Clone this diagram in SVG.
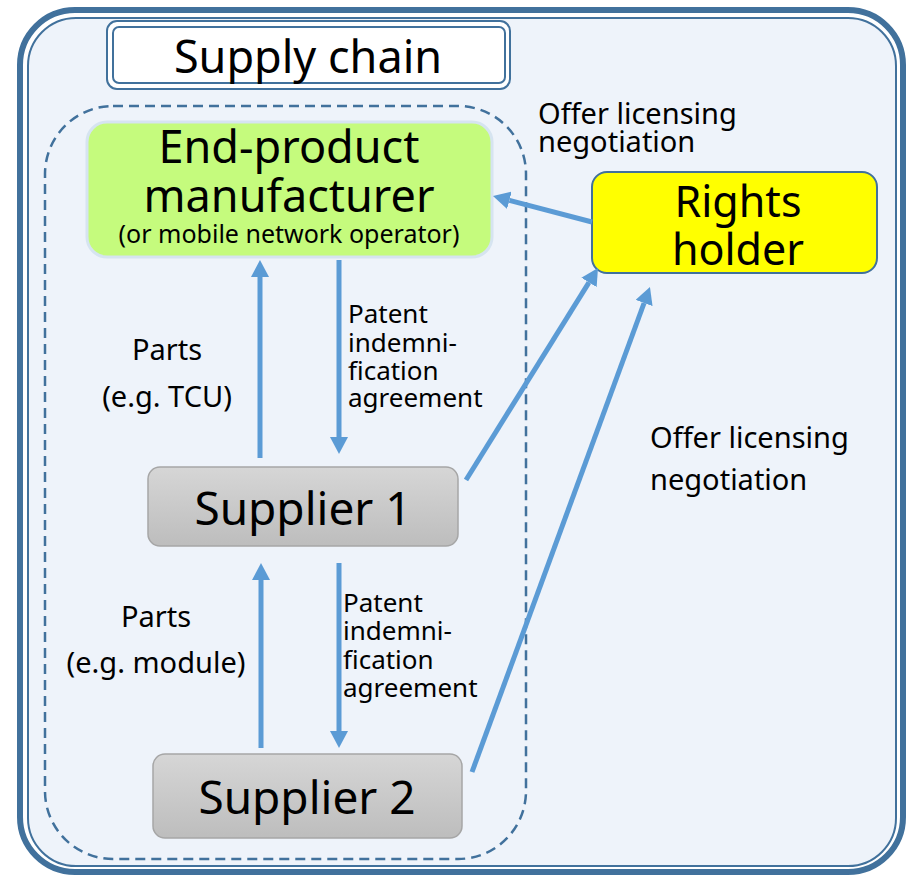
<svg xmlns="http://www.w3.org/2000/svg" width="906" height="875" viewBox="0 0 906 875">
<style>
  text { font-family: "Noto Sans", "Open Sans", sans-serif; fill: #000; }
  .frame { fill: none; stroke: #41719C; }
  .conn { stroke: #5B9BD5; stroke-width: 5; fill: none; marker-end: url(#ah); }
  .conn0 { stroke: #5B9BD5; stroke-width: 5; fill: none; }
  .sup { fill: url(#grey); stroke: #A6A6A6; stroke-width: 1.5; }
  .lbl { font-size: 29px; }
  .pat { font-size: 26px; }
</style>
<defs>
  <linearGradient id="grey" x1="0" y1="0" x2="0" y2="1">
    <stop offset="0" stop-color="#D6D6D6"/>
    <stop offset="1" stop-color="#BDBDBD"/>
  </linearGradient>
  <marker id="ah" markerUnits="userSpaceOnUse" markerWidth="17" markerHeight="18" viewBox="0 0 17 18" refX="0" refY="9" orient="auto">
    <path d="M0,0 L17,9 L0,18 Z" fill="#5B9BD5"/>
  </marker>
</defs>

<g id="background">
  <rect x="20" y="10" width="883" height="862" rx="55" fill="#FFFFFF" stroke="#41719C" stroke-width="6"/>
  <rect x="28" y="18" width="868" height="848" rx="48" fill="#EEF3FA" stroke="#41719C" stroke-width="2"/>
</g>

<g id="title">
  <rect x="107" y="21" width="403" height="68" rx="10" fill="#FFFFFF" stroke="#41719C" stroke-width="2"/>
  <rect x="113" y="27" width="392" height="56" rx="6" fill="#FFFFFF" stroke="#41719C" stroke-width="2"/>
  <text x="308" y="73" font-size="45" text-anchor="middle">Supply chain</text>
</g>

<g id="supply-chain-boundary">
  <rect x="45" y="106" width="481" height="753" rx="68" fill="none" stroke="#41719C" stroke-width="2.5" stroke-dasharray="10 6"/>
</g>

<g id="end-product">
  <rect x="87" y="122" width="405" height="135" rx="20" fill="#C5FB7D" stroke="#D6E4F0" stroke-width="3"/>
  <text x="289" y="163" font-size="45" text-anchor="middle">End-product</text>
  <text x="289" y="212" font-size="45" text-anchor="middle">manufacturer</text>
  <text x="289" y="243" font-size="25" text-anchor="middle">(or mobile network operator)</text>
</g>

<g id="rights-holder">
  <rect x="592" y="172" width="285" height="101" rx="15" fill="#FFFF00" stroke="#41719C" stroke-width="2"/>
  <text x="738" y="217" font-size="43" text-anchor="middle">Rights</text>
  <text x="738" y="265" font-size="43" text-anchor="middle">holder</text>
</g>

<g id="supplier-1">
  <rect class="sup" x="148" y="467" width="310" height="79" rx="12"/>
  <text x="303" y="525" font-size="46" text-anchor="middle">Supplier 1</text>
</g>

<g id="supplier-2">
  <rect class="sup" x="153" y="754" width="309" height="84" rx="12"/>
  <text x="307" y="814" font-size="46" text-anchor="middle">Supplier 2</text>
</g>

<g id="connectors">
  <line class="conn" x1="260" y1="458" x2="260" y2="277"/>
  <line class="conn" x1="339" y1="260" x2="339" y2="437"/>
  <line class="conn" x1="261" y1="748" x2="261" y2="580"/>
  <line class="conn" x1="339" y1="563" x2="339" y2="731"/>
  <line class="conn" x1="592" y1="222" x2="509.4" y2="200.3"/>
  <line class="conn" x1="466" y1="480" x2="589" y2="282.4"/>
  <line class="conn" x1="472" y1="772" x2="644.1" y2="303"/>
</g>

<g id="labels">
  <text x="538" y="124" font-size="29">Offer licensing</text>
  <text x="538" y="152" font-size="29">negotiation</text>
  <text x="650" y="448" font-size="29">Offer licensing</text>
  <text x="650" y="490" font-size="29">negotiation</text>

  <text class="lbl" x="167" y="360" text-anchor="middle">Parts</text>
  <text class="lbl" x="167" y="407" text-anchor="middle">(e.g. TCU)</text>
  <text class="pat" x="348" y="323">Patent</text>
  <text class="pat" x="348" y="352">indemni-</text>
  <text class="pat" x="348" y="380">fication</text>
  <text class="pat" x="348" y="407">agreement</text>

  <text class="lbl" x="156" y="627" text-anchor="middle">Parts</text>
  <text class="lbl" x="156" y="673" text-anchor="middle">(e.g. module)</text>
  <text class="pat" x="343" y="612">Patent</text>
  <text class="pat" x="343" y="640">indemni-</text>
  <text class="pat" x="343" y="669">fication</text>
  <text class="pat" x="343" y="697">agreement</text>
</g>
</svg>
